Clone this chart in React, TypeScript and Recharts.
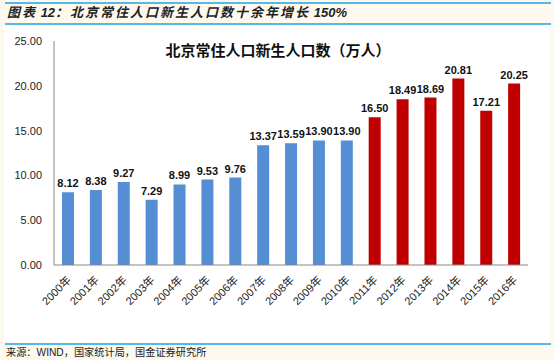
import React from "react";
import { BarChart, Bar, XAxis, YAxis, Cell, LabelList } from "recharts";

const years = ["2000年","2001年","2002年","2003年","2004年","2005年","2006年","2007年","2008年","2009年","2010年","2011年","2012年","2013年","2014年","2015年","2016年"];
const births = [8.12, 8.38, 9.27, 7.29, 8.99, 9.53, 9.76, 13.37, 13.59, 13.90, 13.90, 16.50, 18.49, 18.69, 20.81, 17.21, 20.25];
const yTicks = [0, 5, 10, 15, 20, 25];
const redFrom = "2011年";

const data = years.map((y, i) => ({ year: y, value: births[i] }));
const redIndex = years.indexOf(redFrom);

const BLUE = "#558ED5";
const RED = "#C00000";
const LINE = "#55B8EA";
const CREAM = "#FEF9EE";
const FONT = "'Liberation Sans', Arial, 'Noto Sans CJK SC', sans-serif";

const XTick = (props: any) => {
  const { x, y, payload } = props;
  return (
    <text
      transform={`translate(${x + 1},${y + 5}) rotate(-45)`}
      textAnchor="end"
      dy="0.35em"
      fontSize={11}
      fill="#222"
      fontFamily={FONT}
    >
      {payload.value}
    </text>
  );
};

export default function App() {
  return (
    <div style={{ position: "fixed", left: 0, top: 0, width: 554, height: 360, background: CREAM, overflow: "hidden" }}>
      <div style={{ position: "absolute", left: 5, top: 2, width: 546, height: 2, background: LINE }} />
      <div
        style={{
          position: "absolute", left: 7, top: 3, height: 20, lineHeight: "20px",
          fontSize: 13, fontWeight: "bold", fontStyle: "italic", color: "#222",
          fontFamily: FONT, whiteSpace: "nowrap",
        }}
      >
        <span style={{ letterSpacing: 2 }}>图表</span>
        {" 12"}
        <span style={{ letterSpacing: 2 }}>：北京常住人口新生人口数十余年增长</span>
        {" 150%"}
      </div>
      <div style={{ position: "absolute", left: 5, top: 23, width: 546, height: 2, background: LINE }} />
      <div style={{ position: "absolute", left: 4, top: 25, width: 546, height: 318, background: "#fff" }} />
      <div style={{ position: "absolute", left: 5, top: 343, width: 546, height: 2, background: LINE }} />
      <div
        style={{
          position: "absolute", left: 6, top: 345, height: 15, lineHeight: "15px",
          fontSize: 10.2, color: "#222",
          fontFamily: FONT, whiteSpace: "nowrap",
        }}
      >
        来源：WIND，国家统计局，国金证券研究所
      </div>
      <div
        style={{
          position: "absolute", left: 0, width: 554, top: 40, textAlign: "center",
          fontSize: 15, fontWeight: "bold", color: "#111",
          fontFamily: "'Noto Sans CJK SC', sans-serif", lineHeight: "20px",
        }}
      >
        <span style={{ position: "relative", left: 1 }}>北京常住人口新生人口数（万人）</span>
      </div>
      <div style={{ position: "absolute", left: 0, top: 0 }}>
        <BarChart
          width={554}
          height={360}
          data={data}
          margin={{ top: 41, right: 26, left: 0, bottom: 35 }}
        >
          <XAxis
            dataKey="year"
            axisLine={{ stroke: "#888" }}
            tickLine={false}
            interval={0}
            height={60}
            tick={<XTick />}
          />
          <YAxis
            width={54}
            domain={[0, 25]}
            ticks={yTicks}
            axisLine={{ stroke: "#888" }}
            tickLine={false}
            tickMargin={6}
            tickFormatter={(v: number) => v.toFixed(2)}
            tick={{ fontSize: 11, fill: "#222", fontFamily: FONT }}
          />
          <Bar dataKey="value" barSize={12} isAnimationActive={false}>
            {data.map((d, i) => (
              <Cell key={d.year} fill={i >= redIndex ? RED : BLUE} />
            ))}
            <LabelList
              dataKey="value"
              position="top"
              offset={5}
              formatter={(v: number) => v.toFixed(2)}
              style={{ fontSize: 11, fontWeight: "bold", fill: "#111", fontFamily: FONT }}
            />
          </Bar>
        </BarChart>
      </div>
    </div>
  );
}
